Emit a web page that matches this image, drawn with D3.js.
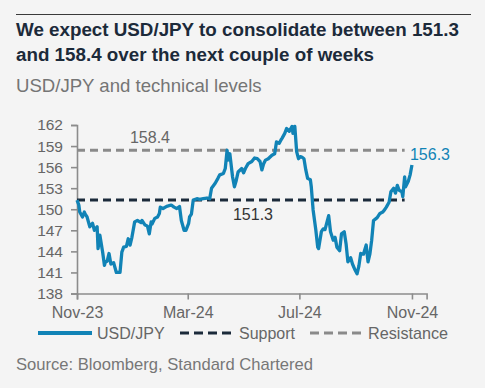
<!DOCTYPE html>
<html><head><meta charset="utf-8">
<script src="https://cdn.jsdelivr.net/npm/d3@7"></script>
<style>
html,body{margin:0;padding:0;background:#f4f4f4;}
svg{display:block;font-family:"Liberation Sans",Arial,sans-serif;}
</style></head>
<body><svg id="c" width="485" height="388"></svg>
<script>
const dates = ["2023-11-01","2023-11-03","2023-11-04","2023-11-07","2023-11-09","2023-11-10","2023-11-12","2023-11-15","2023-11-18","2023-11-20","2023-11-23","2023-11-24","2023-11-26","2023-11-29","2023-12-01","2023-12-02","2023-12-04","2023-12-06","2023-12-08","2023-12-11","2023-12-14","2023-12-18","2023-12-20","2023-12-22","2023-12-25","2023-12-27","2023-12-29","2023-12-31","2024-01-03","2024-01-06","2024-01-10","2024-01-11","2024-01-14","2024-01-17","2024-01-19","2024-01-21","2024-01-22","2024-01-25","2024-01-28","2024-01-30","2024-01-31","2024-02-03","2024-02-07","2024-02-12","2024-02-15","2024-02-18","2024-02-21","2024-02-23","2024-02-26","2024-02-28","2024-03-02","2024-03-03","2024-03-05","2024-03-07","2024-03-11","2024-03-14","2024-03-18","2024-03-22","2024-03-25","2024-03-27","2024-03-31","2024-04-03","2024-04-05","2024-04-09","2024-04-11","2024-04-13","2024-04-14","2024-04-16","2024-04-19","2024-04-21","2024-04-23","2024-04-25","2024-04-29","2024-05-01","2024-05-03","2024-05-06","2024-05-10","2024-05-13","2024-05-16","2024-05-19","2024-05-21","2024-05-23","2024-05-25","2024-05-28","2024-06-01","2024-06-04","2024-06-06","2024-06-09","2024-06-11","2024-06-12","2024-06-15","2024-06-17","2024-06-20","2024-06-23","2024-06-24","2024-06-26","2024-06-28","2024-06-30","2024-07-02","2024-07-04","2024-07-06","2024-07-08","2024-07-10","2024-07-13","2024-07-14","2024-07-16","2024-07-19","2024-07-21","2024-07-22","2024-07-25","2024-07-27","2024-07-29","2024-08-02","2024-08-04","2024-08-07","2024-08-09","2024-08-11","2024-08-14","2024-08-16","2024-08-19","2024-08-21","2024-08-23","2024-08-26","2024-08-28","2024-08-31","2024-09-02","2024-09-04","2024-09-06","2024-09-09","2024-09-12","2024-09-14","2024-09-16","2024-09-18","2024-09-20","2024-09-22","2024-09-24","2024-09-27","2024-09-30","2024-10-02","2024-10-04","2024-10-07","2024-10-09","2024-10-12","2024-10-14","2024-10-16","2024-10-18","2024-10-21","2024-10-22","2024-10-24","2024-10-25","2024-10-28","2024-10-30","2024-11-01"];
const usdjpy = [151.3,150.6,149.6,148.9,149.6,149.3,148.9,147.5,148.0,147.0,147.5,144.4,146.3,143.9,142.0,142.5,142.6,143.7,142.2,142.4,141.0,141.0,143.9,144.6,144.7,145.8,144.9,146.0,148.2,148.4,148.1,148.4,147.8,147.6,146.5,148.2,147.9,148.7,148.9,149.4,150.3,150.1,150.4,150.6,150.3,150.1,150.4,148.4,147.0,147.0,148.0,148.9,149.3,151.3,151.5,151.4,151.5,151.6,151.5,153.0,153.7,154.4,154.9,155.1,155.8,158.4,157.0,157.9,154.6,153.2,154.1,155.3,155.8,155.2,155.8,156.5,156.8,157.3,157.2,156.8,155.6,156.5,157.0,157.2,157.7,157.9,159.6,159.4,159.9,160.1,160.8,161.5,161.1,161.8,160.8,161.8,158.2,157.2,157.5,157.4,157.2,155.6,154.4,154.2,153.2,149.9,147.0,144.6,144.4,146.8,147.2,147.1,149.1,146.8,145.6,146.0,144.6,144.1,146.5,146.8,145.1,142.5,143.1,142.2,141.3,140.8,141.9,143.7,143.6,144.9,142.5,143.6,145.6,148.4,148.6,148.8,149.4,149.6,149.9,150.3,151.0,152.5,153.0,152.3,153.4,152.7,152.5,151.8,154.6,153.2,154.0,154.9,156.3];
const support = 151.3;
const resistance = 158.4;
const levelStart = "2023-11-01";
const levelEnd = "2024-10-24";
const yTicks = [138,141,144,147,150,153,156,159,162];
const xTickDates = ["2023-11-01","2024-03-01","2024-07-01","2024-11-01"];
const xDomain = ["2023-11-01","2024-11-17"];
const title = ["We expect USD/JPY to consolidate between 151.3","and 158.4 over the next couple of weeks"];
const subtitle = "USD/JPY and technical levels";
const source = "Source: Bloomberg, Standard Chartered";
const legendItems = ["USD/JPY","Support","Resistance"];

const parse = d3.utcParse("%Y-%m-%d");
const blue = "#1183b6", navy = "#1b2a3a", grey = "#8a8a8a";
const svg = d3.select("#c");

svg.append("line").attr("x1",16).attr("x2",471).attr("y1",14.5).attr("y2",14.5).attr("stroke","#3a3a3a").attr("stroke-width",1);
svg.selectAll("text.title").data(title).join("text").attr("class","title")
  .attr("x",16).attr("y",(d,i)=>36+i*24.5).attr("font-size",18.8).attr("font-weight","bold").attr("fill","#1c2a3a").text(d=>d);
svg.append("text").attr("x",16).attr("y",92).attr("font-size",18.6).attr("fill","#757575").text(subtitle);

const x = d3.scaleUtc().domain(xDomain.map(parse)).range([77,426.6]);
const y = d3.scaleLinear().domain([138,162]).range([293.5,125]);

const xAxis = svg.append("g").attr("transform","translate(0,293.5)")
  .call(d3.axisBottom(x).tickValues(xTickDates.map(parse)).tickFormat(d3.utcFormat("%b-%y")).tickSizeOuter(0).tickSize(6).tickPadding(4));
const yAxis = svg.append("g").attr("transform","translate(77,0)")
  .call(d3.axisLeft(y).tickValues(yTicks).tickSizeOuter(0).tickSize(6).tickPadding(8));
[xAxis,yAxis].forEach(g=>{
  g.select(".domain").attr("stroke","#8c8c8c").attr("stroke-width",1.6);
  g.selectAll(".tick line").attr("stroke","#8c8c8c").attr("stroke-width",1.6);
  g.selectAll(".tick text").attr("fill","#666").attr("font-size",16).attr("font-family","Liberation Sans, Arial, sans-serif");
});
yAxis.selectAll(".tick text").attr("font-size",15.5);
xAxis.selectAll(".tick text").attr("dy","0.9em");

const lvl = [parse(levelStart), parse(levelEnd)];
svg.append("line").attr("x1",x(lvl[0])).attr("x2",x(lvl[1])).attr("y1",y(resistance)).attr("y2",y(resistance))
  .attr("stroke",grey).attr("stroke-width",3).attr("stroke-dasharray","8,5");
svg.append("line").attr("x1",x(lvl[0])).attr("x2",x(lvl[1])).attr("y1",y(support)).attr("y2",y(support))
  .attr("stroke",navy).attr("stroke-width",3).attr("stroke-dasharray","8,5");

const data = dates.map((d,i)=>({d:parse(d),v:usdjpy[i]}));
svg.append("path").datum(data).attr("fill","none").attr("stroke",blue).attr("stroke-width",3.3).attr("stroke-linejoin","round")
  .attr("d",d3.line().x(p=>x(p.d)).y(p=>y(p.v)));

svg.append("text").attr("x",150).attr("y",y(resistance)-7).attr("text-anchor","middle").attr("font-size",16).attr("fill","#666").text(resistance.toFixed(1));
svg.append("text").attr("x",253).attr("y",y(support)+19.5).attr("text-anchor","middle").attr("font-size",16).attr("fill","#333").text(support.toFixed(1));
const last = data[data.length-1];
svg.append("text").attr("x",x(last.d)-2).attr("y",y(last.v)-5).attr("font-size",16).attr("fill",blue).text(last.v.toFixed(1));

// legend
const ly = 333;
const lg = svg.append("g");
lg.append("line").attr("x1",38).attr("x2",92).attr("y1",ly).attr("y2",ly).attr("stroke",blue).attr("stroke-width",4);
lg.append("text").attr("x",97).attr("y",ly+5.5).attr("font-size",16).attr("fill","#666").text(legendItems[0]);
lg.append("line").attr("x1",180).attr("x2",232).attr("y1",ly).attr("y2",ly).attr("stroke",navy).attr("stroke-width",3).attr("stroke-dasharray","9,5");
lg.append("text").attr("x",239).attr("y",ly+5.5).attr("font-size",16).attr("fill","#666").text(legendItems[1]);
lg.append("line").attr("x1",310).attr("x2",362).attr("y1",ly).attr("y2",ly).attr("stroke",grey).attr("stroke-width",3).attr("stroke-dasharray","9,5");
lg.append("text").attr("x",368).attr("y",ly+5.5).attr("font-size",16.2).attr("fill","#666").text(legendItems[2]);

svg.append("text").attr("x",16).attr("y",370).attr("font-size",16.6).attr("fill","#777").text(source);
</script></body></html>
